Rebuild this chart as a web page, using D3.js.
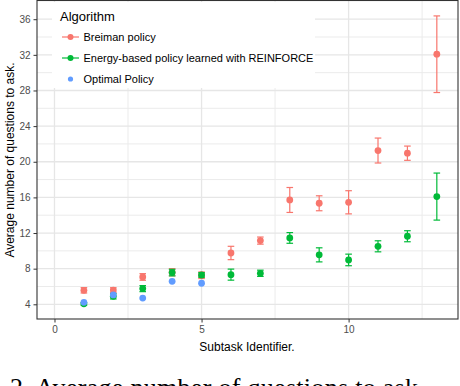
<!DOCTYPE html>
<html>
<head>
<meta charset="utf-8">
<script src="https://cdn.jsdelivr.net/npm/d3@7"></script>
<style>
  html, body { margin: 0; padding: 0; background: #fff; }
  svg { display: block; font-family: "Liberation Sans", Arial, sans-serif; }
</style>
</head>
<body>
<svg id="chart" width="460" height="386"></svg>
<script>
// ---- data ----
const subtasks = [1, 2, 3, 4, 5, 6, 7, 8, 9, 10, 11, 12, 13];
const breimanMean = [5.57, 5.6, 7.07, 7.6, 7.26, 9.76, 11.15, 15.71, 15.34, 15.45, 21.26, 20.96, 32.07];
const breimanErr  = [0.3, 0.26, 0.37, 0.4, 0.37, 0.75, 0.4, 1.4, 0.84, 1.3, 1.4, 0.8, 4.3];
const energyMean  = [4.05, 4.9, 5.76, 7.56, 7.29, 7.33, 7.48, 11.45, 9.55, 8.98, 10.51, 11.64, 16.09];
const energyErr   = [0.15, 0.3, 0.34, 0.37, 0.26, 0.62, 0.35, 0.6, 0.79, 0.65, 0.62, 0.62, 2.64];
const optimalX    = [1, 2, 3, 4, 5];
const optimalMean = [4.22, 5.05, 4.7, 6.58, 6.36];
const yTicks = [4, 8, 12, 16, 20, 24, 28, 32, 36];
const xTicks = [0, 5, 10];
const seriesNames = ["Breiman policy", "Energy-based policy learned with REINFORCE", "Optimal Policy"];
const legendTitle = "Algorithm";
const xTitle = "Subtask Identifier.";
const yTitle = "Average number of questions to ask.";
const caption = "2. Average number of questions to ask";

const colors = ["#F8766D", "#00BA38", "#619CFF"];

const svg = d3.select("#chart");
const panel = { left: 37, right: 458, top: 0.5, bottom: 319 };

const x = d3.scaleLinear().domain([-0.595, 13.72]).range([panel.left, panel.right]);
const y = d3.scaleLinear().domain([2.35, 38.1]).range([panel.bottom, panel.top]);

// panel background
svg.append("rect")
  .attr("x", panel.left).attr("y", panel.top)
  .attr("width", panel.right - panel.left).attr("height", panel.bottom - panel.top)
  .attr("fill", "#fff");

// grid
const grid = svg.append("g");
const yMinor = d3.range(6, 38, 4);
const xMinor = [2.5, 7.5, 12.5];
grid.selectAll(".ymin").data(yMinor).enter().append("line")
  .attr("x1", panel.left).attr("x2", panel.right)
  .attr("y1", d => y(d)).attr("y2", d => y(d))
  .attr("stroke", "#ebebeb").attr("stroke-width", 1);
grid.selectAll(".xmin").data(xMinor).enter().append("line")
  .attr("y1", panel.top).attr("y2", panel.bottom)
  .attr("x1", d => x(d)).attr("x2", d => x(d))
  .attr("stroke", "#ebebeb").attr("stroke-width", 1);
grid.selectAll(".ymaj").data(yTicks).enter().append("line")
  .attr("x1", panel.left).attr("x2", panel.right)
  .attr("y1", d => y(d)).attr("y2", d => y(d))
  .attr("stroke", "#e6e6e6").attr("stroke-width", 1.3);
grid.selectAll(".xmaj").data(xTicks).enter().append("line")
  .attr("y1", panel.top).attr("y2", panel.bottom)
  .attr("x1", d => x(d)).attr("x2", d => x(d))
  .attr("stroke", "#e6e6e6").attr("stroke-width", 1.3);

// marks
const capW = 3.3;
const r = 3.4;
function drawSeries(xs, means, errs, color) {
  const g = svg.append("g");
  if (errs) {
    xs.forEach((xv, i) => {
      const lo = y(means[i] - errs[i]), hi = y(means[i] + errs[i]), cx = x(xv);
      g.append("line").attr("x1", cx).attr("x2", cx).attr("y1", lo).attr("y2", hi)
        .attr("stroke", color).attr("stroke-width", 1.2);
      g.append("line").attr("x1", cx - capW).attr("x2", cx + capW).attr("y1", lo).attr("y2", lo)
        .attr("stroke", color).attr("stroke-width", 1.2);
      g.append("line").attr("x1", cx - capW).attr("x2", cx + capW).attr("y1", hi).attr("y2", hi)
        .attr("stroke", color).attr("stroke-width", 1.2);
    });
  }
  g.selectAll("circle").data(xs).enter().append("circle")
    .attr("cx", d => x(d)).attr("cy", (d, i) => y(means[i]))
    .attr("r", r).attr("fill", color);
}
drawSeries(subtasks, breimanMean, breimanErr, colors[0]);
drawSeries(subtasks, energyMean, energyErr, colors[1]);
drawSeries(optimalX, optimalMean, null, colors[2]);

// legend
const lg = svg.append("g");
lg.append("rect").attr("x", 52).attr("y", 2).attr("width", 263).attr("height", 86).attr("fill", "#fff");
lg.append("text").attr("x", 60).attr("y", 21).attr("font-size", 13).attr("fill", "#000").text(legendTitle);
const legY = [37, 58, 79];
seriesNames.forEach((name, i) => {
  const cy = legY[i];
  if (i < 2) {
    lg.append("line").attr("x1", 62).attr("x2", 79).attr("y1", cy).attr("y2", cy)
      .attr("stroke", colors[i]).attr("stroke-width", 1.2);
  }
  lg.append("circle").attr("cx", 70.5).attr("cy", cy).attr("r", i < 2 ? 3 : 2.6).attr("fill", colors[i]);
  lg.append("text").attr("x", 83.5).attr("y", cy + 4).attr("font-size", 11).attr("fill", "#000").text(name);
});

// panel border
svg.append("rect")
  .attr("x", panel.left).attr("y", panel.top)
  .attr("width", panel.right - panel.left).attr("height", panel.bottom - panel.top)
  .attr("fill", "none").attr("stroke", "#333").attr("stroke-width", 1.1);

// axes
const yAxis = d3.axisLeft(y).tickValues(yTicks).tickSize(3.5).tickPadding(3);
const yg = svg.append("g").attr("transform", `translate(${panel.left},0)`).call(yAxis);
yg.select(".domain").remove();
yg.selectAll(".tick line").attr("stroke", "#333");
yg.selectAll(".tick text").attr("font-size", 10).attr("fill", "#4d4d4d").attr("font-family", "Liberation Sans, Arial, sans-serif");

const xAxis = d3.axisBottom(x).tickValues(xTicks).tickSize(3.5).tickPadding(3);
const xg = svg.append("g").attr("transform", `translate(0,${panel.bottom})`).call(xAxis);
xg.select(".domain").remove();
xg.selectAll(".tick line").attr("stroke", "#333");
xg.selectAll(".tick text").attr("font-size", 10).attr("fill", "#4d4d4d").attr("font-family", "Liberation Sans, Arial, sans-serif");

// titles
svg.append("text").attr("x", 247).attr("y", 351).attr("text-anchor", "middle")
  .attr("font-size", 12).attr("fill", "#000").text(xTitle);
svg.append("text").attr("transform", "translate(14,160) rotate(-90)").attr("text-anchor", "middle")
  .attr("font-size", 12).attr("fill", "#000").text(yTitle);

// caption (cut off at bottom of image)
svg.append("text").attr("x", 10).attr("y", 396)
  .attr("font-family", "Liberation Serif, 'Times New Roman', serif")
  .attr("font-size", 26).attr("fill", "#000")
  .attr("textLength", 408).attr("lengthAdjust", "spacing")
  .text(caption);
</script>
</body>
</html>
